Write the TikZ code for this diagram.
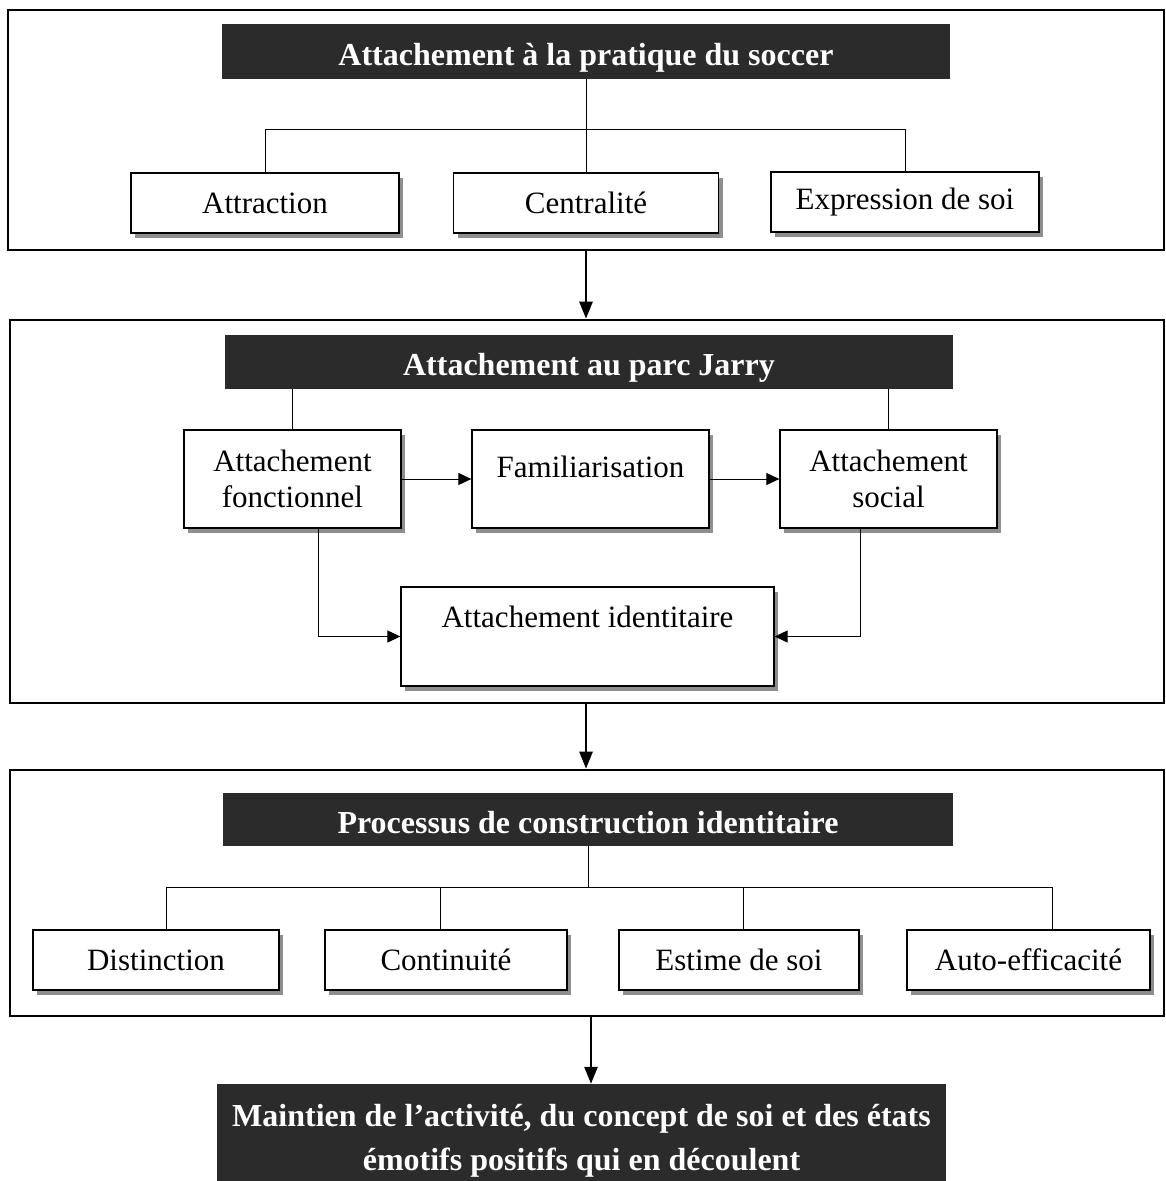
\documentclass[tikz,border=0pt]{standalone}
\usepackage{fontspec}
\setmainfont{Liberation Serif}
\usetikzlibrary{shadows,arrows.meta}
\definecolor{darkbox}{HTML}{2B2B2B}
\definecolor{shadowgray}{HTML}{8E8E8E}
\begin{document}
\begin{tikzpicture}[x=1pt,y=-1pt,
  frame/.style={draw, line width=2.6pt, inner sep=0pt},
  title/.style={fill=darkbox, text=white, inner sep=0pt, align=center,
    font=\fontsize{32}{44}\selectfont\bfseries},
  titletext/.style={text height=34pt, text depth=7pt},
  box/.style={draw, line width=1.3pt, fill=white, inner sep=0pt, align=center,
    font=\fontsize{31}{36}\selectfont,
    drop shadow={shadow xshift=4pt, shadow yshift=-5pt, fill=shadowgray, opacity=1}},
  link/.style={line width=0.9pt},
  smallarrow/.style={line width=1pt, -{Triangle[length=13pt,width=12pt]}},
  bigarrow/.style={line width=2.6pt, -{Triangle[length=17pt,width=13pt]}},
]
\useasboundingbox (0,0) rectangle (1166,1181);

% ---------- frames ----------
\node[frame, minimum width=1156pt, minimum height=240pt] (f1) at (586,130) {};
\node[frame, minimum width=1154pt, minimum height=383pt] (f2) at (587,511.5) {};
\node[frame, minimum width=1154pt, minimum height=246pt] (f3) at (587,893) {};

% ---------- level 1 ----------
\node[title, titletext, minimum width=728pt, minimum height=55pt] (t1) at (586,51.5) {Attachement à la pratique du soccer};
\node[box, minimum width=268pt, minimum height=60pt] (attr) at (265,203) {Attraction};
\node[box, minimum width=265pt, minimum height=60pt] (cent) at (586,203) {Centralité};
\node[box, minimum width=268pt, minimum height=60pt] (expr) at (905,202) {Expression de soi};
\coordinate (h1) at (586,129);
\draw[link] (t1.south) -- (cent.north);
\draw[link] (attr.north) -- (attr.north |- h1) -- (expr.north |- h1) -- (expr.north);

% ---------- level 2 ----------
\node[title, titletext, minimum width=728pt, minimum height=54pt] (t2) at (589,362) {Attachement au parc Jarry};
\node[box, minimum width=217pt, minimum height=98pt] (fonc) at (292.5,479) {Attachement\\fonctionnel};
\node[box, minimum width=237pt, minimum height=98pt, text height=21pt, text depth=25pt] (fami) at (590.5,479) {Familiarisation};
\node[box, minimum width=217pt, minimum height=98pt] (soc) at (888.5,479) {Attachement\\social};
\node[box, minimum width=373pt, minimum height=99pt, text height=21pt, text depth=40pt] (iden) at (587.5,636.5) {Attachement identitaire};
\draw[link] (fonc.north |- t2.south) -- (fonc.north);
\draw[link] (soc.north |- t2.south) -- (soc.north);
\draw[smallarrow] (fonc.east) -- (fami.west);
\draw[smallarrow] (fami.east) -- (soc.west);
\draw[smallarrow] ([xshift=25.5pt]fonc.south) |- (iden.west);
\draw[smallarrow] ([xshift=-28.5pt]soc.south) |- (iden.east);

% ---------- level 3 ----------
\node[title, titletext, minimum width=730pt, minimum height=53pt] (t3) at (588,819.5) {Processus de construction identitaire};
\node[box, minimum width=246pt, minimum height=60pt] (dist) at (156,960) {Distinction};
\node[box, minimum width=242pt, minimum height=60pt] (cont) at (446,960) {Continuité};
\node[box, minimum width=240pt, minimum height=60pt] (esti) at (739,960) {Estime de soi};
\node[box, minimum width=243pt, minimum height=60pt] (auto) at (1028.5,960) {Auto-efficacité};
\coordinate (h3) at (588,887);
\draw[link] (t3.south) -- (h3);
\draw[link] ([xshift=10pt]dist.north) -- ([xshift=10pt]dist.north |- h3)
  -- ([xshift=23.5pt]auto.north |- h3) -- ([xshift=23.5pt]auto.north);
\draw[link] ([xshift=-6pt]cont.north) -- ([xshift=-6pt]cont.north |- h3);
\draw[link] ([xshift=4pt]esti.north) -- ([xshift=4pt]esti.north |- h3);

% ---------- final ----------
\node[title, minimum width=729pt, minimum height=97pt] (fin) at (581.5,1132.5) {};
\node[title, fill=none] (fintext) at (581.5,1141) {Maintien de l’activité, du concept de soi et des états\\émotifs positifs qui en découlent};

% ---------- main arrows ----------
\draw[bigarrow] (f1.south) -- (f1.south |- f2.north);
\draw[bigarrow] ([xshift=-1pt]f2.south) -- ([xshift=-1pt]f2.south |- f3.north);
\draw[bigarrow] ([xshift=4pt]f3.south) -- ([xshift=4pt]f3.south |- fin.north);
\end{tikzpicture}
\end{document}
